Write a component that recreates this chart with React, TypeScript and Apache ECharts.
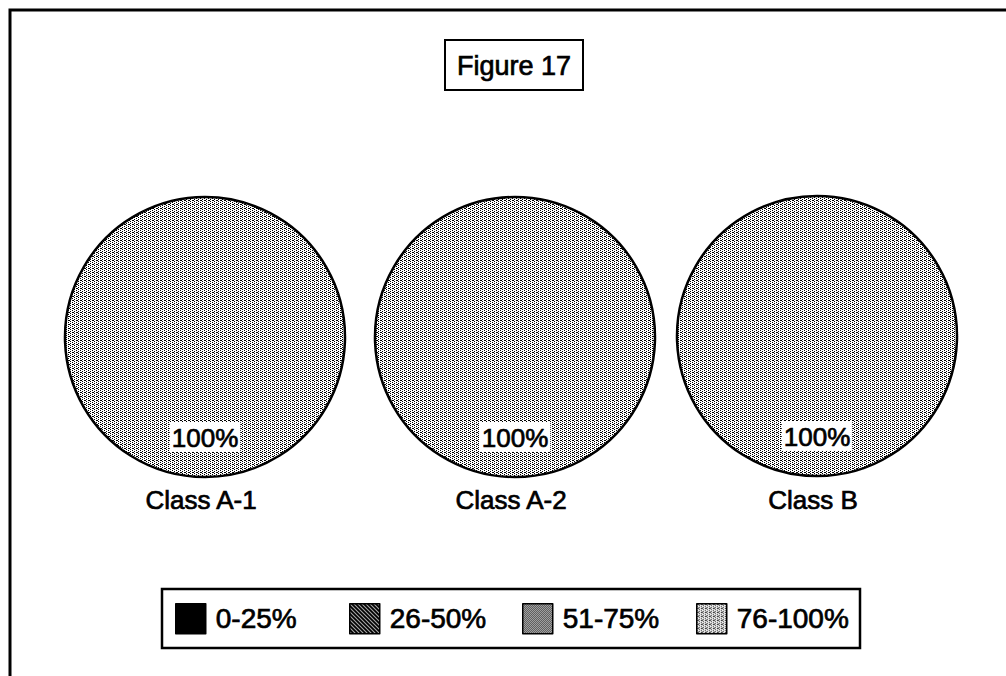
import React, { useEffect, useRef } from "react";
import * as echarts from "echarts";

const figureTitle = "Figure 17";
const classNames = ["Class A-1", "Class A-2", "Class B"];
const rangeNames = ["0-25%", "26-50%", "51-75%", "76-100%"];
const classA1 = [0, 0, 0, 100];
const classA2 = [0, 0, 0, 100];
const classB = [0, 0, 0, 100];
const classValues = [classA1, classA2, classB];

const FONT = "Liberation Sans, Arial, sans-serif";
const THICK = { textBorderColor: "#000", textBorderWidth: 0.7 };

function makePattern(size: number, cells: number[][], bg = "#fff") {
  const c = document.createElement("canvas");
  c.width = size;
  c.height = size;
  const ctx = c.getContext("2d") as CanvasRenderingContext2D;
  ctx.fillStyle = bg;
  ctx.fillRect(0, 0, size, size);
  ctx.fillStyle = "#000";
  cells.forEach(([x, y]) => ctx.fillRect(x, y, 1, 1));
  return { image: c, repeat: "repeat" } as any;
}

export default function App() {
  const ref = useRef<HTMLDivElement>(null);
  useEffect(() => {
    if (!ref.current) return;
    const chart = echarts.init(ref.current, null, { renderer: "svg" });

    const hatch: number[][] = [];
    for (let x = 0; x < 4; x++)
      for (let y = 0; y < 4; y++) if ((x - y + 8) % 4 !== 0) hatch.push([x, y]);
    const fills = [
      "#000",
      makePattern(4, hatch),
      makePattern(2, [[0, 0], [1, 1]]),
      makePattern(4, [[0, 0], [2, 1], [0, 2], [2, 3], [1, 0]]),
    ];

    const centers = [
      [205, 337],
      [515, 337],
      [817, 336],
    ];
    const legendLefts = [175, 349, 522, 696];

    const series = classValues.map((vals, i) => ({
      type: "pie",
      name: classNames[i],
      center: centers[i],
      radius: 140,
      startAngle: 90,
      silent: true,
      animation: false,
      emphasis: { disabled: true },
      itemStyle: { borderColor: "#000", borderWidth: 2.5 },
      label: {
        show: true,
        position: "inside",
        formatter: (p: any) => (p.value > 0 ? `{pad| }\n{v|${p.value}%}` : ""),
        rich: {
          pad: { height: 54, fontSize: 10 },
          v: {
            fontSize: 26,
            fontFamily: FONT,
            color: "#000",
            backgroundColor: "#fff",
            padding: [3, 2, 1, 2],
            ...THICK,
          },
        },
      },
      labelLine: { show: false },
      data: vals.map((v, k) => ({
        name: rangeNames[k],
        value: v,
        itemStyle: {
          color: fills[k],
          borderWidth: v > 0 ? 2.5 : 0,
        },
        label: { show: v > 0 },
      })),
    }));

    const option: any = {
      animation: false,
      backgroundColor: "#fff",
      title: [
        {
          text: figureTitle,
          left: 514,
          top: 66,
          padding: 0,
          textAlign: "center",
          textVerticalAlign: "middle",
          textStyle: { fontFamily: FONT, fontSize: 27, fontWeight: "normal", color: "#000", ...THICK },
        },
        ...classNames.map((c, i) => ({
          text: c,
          left: centers[i][0] - 4,
          top: 500,
          padding: 0,
          textAlign: "center",
          textVerticalAlign: "middle",
          textStyle: { fontFamily: FONT, fontSize: 26, fontWeight: "normal", color: "#000", ...THICK },
        })),
      ],
      legend: rangeNames.map((n, i) => ({
        data: [n],
        left: legendLefts[i],
        top: 603,
        padding: 0,
        orient: "horizontal",
        itemWidth: 30,
        itemHeight: 30,
        icon: "rect",
        selectedMode: false,
        itemStyle: { borderColor: "#000", borderWidth: 1.5 },
        textStyle: {
          fontFamily: FONT,
          fontSize: 28,
          color: "#000",
          padding: [10, 0, 0, 5],
          ...THICK,
        },
      })),
      graphic: [
        {
          type: "rect",
          shape: { x: 10, y: 10, width: 1100, height: 800 },
          style: { fill: "none", stroke: "#000", lineWidth: 3 },
          silent: true,
        },
        {
          type: "rect",
          shape: { x: 445, y: 40, width: 138, height: 50 },
          style: { fill: "none", stroke: "#000", lineWidth: 2 },
          silent: true,
        },
        {
          type: "rect",
          shape: { x: 162, y: 589, width: 698, height: 59 },
          style: { fill: "none", stroke: "#000", lineWidth: 2.5 },
          silent: true,
        },
      ],
      series,
    };
    chart.setOption(option);
    return () => chart.dispose();
  }, []);
  return (
    <div
      ref={ref}
      style={{ position: "fixed", left: 0, top: 0, width: 1006, height: 676, background: "#fff" }}
    />
  );
}
